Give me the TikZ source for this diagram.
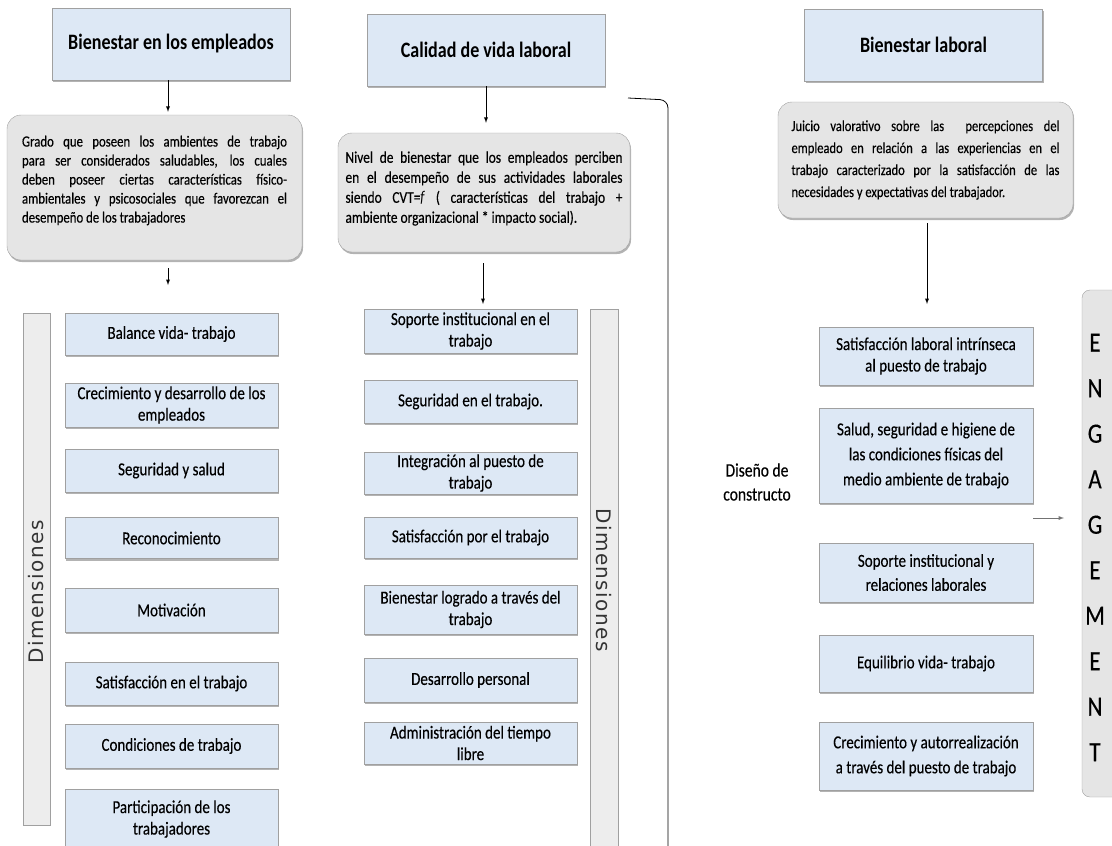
\documentclass[tikz,border=0pt]{standalone}
\usepackage{fontspec}
\setmainfont{Carlito}[FakeStretch=0.82,UprightFeatures={FakeBold=0.3}]
\newfontfamily\dimfont[LetterSpace=7]{DejaVu Sans}
\usetikzlibrary{shadows}
\definecolor{cajaazul}{RGB}{221,232,245}
\definecolor{cajagris}{RGB}{229,229,229}
\definecolor{bordegris}{RGB}{160,160,160}
\newcommand{\bajo}[1]{\par\vspace*{#1}\nointerlineskip\hbox{}}
\tikzset{
	sombra/.style={drop shadow={shadow xshift=1pt,shadow yshift=-2pt,opacity=.6}},
	titulo/.style={draw=bordegris,fill=cajaazul,sombra,minimum width=238pt,minimum height=72pt,font=\fontsize{22}{26}\selectfont\bfseries},
	definicion/.style={draw=bordegris,fill=cajagris,sombra,rounded corners=14pt,align=justify},
	dimension/.style={draw=bordegris,fill=cajaazul,sombra,minimum width=213pt,inner sep=1pt,align=center,font=\fontsize{18.3}{21.5}\selectfont},
	barra/.style={draw=bordegris,fill=black!7,minimum width=27pt},
	vertical/.style={text=black!80,font={\dimfont\fontsize{20}{20}\selectfont}},
	flecha/.style={->,line width=0.9pt}
}
\begin{document}
\begin{tikzpicture}[x=1pt,y=-1pt,>=latex]
	\useasboundingbox (0,0) rectangle (1112,846);
	\clip (0,0) rectangle (1112,846);
	% titulos
	\node[titulo] (tit1) at (171,44) {Bienestar en los empleados};
	\node[titulo] (tit2) at (486,50) {Calidad de vida laboral};
	\node[titulo] (tit3) at (923.5,45) {Bienestar laboral};
	% definiciones
	\node[definicion,text width=265pt,inner xsep=15pt,minimum height=145pt,font=\fontsize{15.6}{19}\selectfont] (def1) at (154.5,187.5) {Grado que poseen los ambientes de trabajo\linebreak para ser considerados saludables, los cuales\linebreak deben poseer ciertas características físico-\linebreak ambientales y psicosociales que favorezcan el\linebreak desempeño de los trabajadores\bajo{14pt}};
	\node[definicion,text width=277pt,inner xsep=7.5pt,minimum height=119pt,font=\fontsize{16.4}{20}\selectfont] (def2) at (484,192.5) {Nivel de bienestar que los empleados perciben\linebreak en el desempeño de sus actividades laborales\linebreak siendo CVT=\textit{f} ( características del trabajo +\linebreak ambiente organizacional * impacto social).\bajo{8pt}};
	\node[definicion,text width=268pt,inner xsep=13.5pt,minimum height=116pt,font=\fontsize{15.3}{22}\selectfont] (def3) at (925.5,160) {Juicio valorativo sobre las \ percepciones del\linebreak empleado en relación a las experiencias en el\linebreak trabajo caracterizado por la satisfacción de las\linebreak necesidades y expectativas del trabajador.};
	% flechas
	\coordinate (fin1) at (168,285);
	\coordinate (fin2) at (483,304);
	\coordinate (fin3) at (927,304);
	\draw[flecha,shorten >=3pt] ([xshift=-3pt]tit1.south) -- ([xshift=-3pt]tit1.south |- def1.north);
	\draw[flecha,shorten <=8pt] (def1.south -| fin1) -- (fin1);
	\draw[flecha,shorten >=10pt] (tit2.south) -- (tit2.south |- def2.north);
	\draw[flecha,shorten <=11pt] (def2.south -| fin2) -- (fin2);
	\draw[flecha,shorten <=5pt] (def3.south -| fin3) -- (fin3);
%	\draw[dotted] (def2.east) -- (668,192);
	\coordinate (llave) at (628,98);
	\draw[line width=0.8pt,rounded corners=8pt] (llave) -- (668,100) -- (668,850);
	% columna izquierda
	\node[barra,minimum height=512pt] (barra1) at (36.5,569) {};
	\node[vertical,rotate=90] (dim1) at (36.5,592) {Dimensiones};
	\node[dimension,minimum height=42pt] (iz1) at (171.5,334) {Balance vida- trabajo};
	\node[dimension,minimum height=44pt] (iz2) at (171.5,405) {Crecimiento y desarrollo de los\\empleados};
	\node[dimension,minimum height=43pt] (iz3) at (171.5,470.5) {Seguridad y salud};
	\node[dimension,minimum height=41pt] (iz4) at (171.5,538) {Reconocimiento};
	\node[dimension,minimum height=44pt] (iz5) at (171.5,610) {Motivación};
	\node[dimension,minimum height=43pt] (iz6) at (171.5,683.5) {Satisfacción en el trabajo};
	\node[dimension,minimum height=44pt] (iz7) at (171.5,746) {Condiciones de trabajo};
	\node[dimension,minimum height=60pt] (iz8) at (171.5,819) {Participación de los\\trabajadores};
	% columna central
	\node[dimension,minimum height=44pt] (ce1) at (470.5,331) {Soporte institucional en el\\trabajo};
	\node[dimension,minimum height=43pt] (ce2) at (470.5,401.5) {Seguridad en el trabajo.};
	\node[dimension,minimum height=42pt] (ce3) at (470.5,473) {Integración al puesto de\\trabajo};
	\node[dimension,minimum height=41pt] (ce4) at (470.5,537.5) {Satisfacción por el trabajo};
	\node[dimension,minimum height=49pt] (ce5) at (470.5,609.5) {Bienestar logrado a través del\\trabajo};
	\node[dimension,minimum height=44pt] (ce6) at (470.5,680) {Desarrollo personal};
	\node[dimension,minimum height=42pt] (ce7) at (470.5,743) {Administración del tiempo\\libre};
	\node[barra,minimum width=28pt,minimum height=540pt] (barra2) at (604,579) {};
	\node[vertical,rotate=-90] (dim2) at (604,580) {Dimensiones};
	% columna derecha
	\node[align=center,font=\fontsize{19}{24}\selectfont] (diseno) at (757,482) {Diseño de\\constructo};
	\node[dimension,minimum width=214pt,minimum height=58pt] (de1) at (926,356) {Satisfacción laboral intrínseca\\al puesto de trabajo};
	\node[dimension,minimum width=214pt,minimum height=95pt,font=\fontsize{18.3}{25}\selectfont] (de2) at (926,455.5) {Salud, seguridad e higiene de\\las condiciones físicas del\\medio ambiente de trabajo};
	\node[dimension,minimum width=214pt,minimum height=59pt,font=\fontsize{18.3}{24}\selectfont] (de3) at (926,572.5) {Soporte institucional y\\relaciones laborales};
	\node[dimension,minimum width=214pt,minimum height=57pt] (de4) at (926,663.5) {Equilibrio vida- trabajo};
	\node[dimension,minimum width=214pt,minimum height=68pt,font=\fontsize{18.3}{25}\selectfont] (de5) at (926,756) {Crecimiento y autorrealización\\a través del puesto de trabajo};
	\coordinate (g1) at (1033,518);
	\coordinate (g2) at (1064,518);
	\draw[->,draw=black!55,line width=0.9pt] (g1) -- (g2);
	% engagement
	\node[draw=bordegris,fill=cajagris,rounded corners=8pt,minimum width=60pt,minimum height=507pt] (eng) at (1112,543.5) {};
	\node[align=center,font=\fontsize{28}{45.5}\selectfont] (letras) at (1095,547.5) {E\\N\\G\\A\\G\\E\\M\\E\\N\\T};
\end{tikzpicture}
\end{document}
